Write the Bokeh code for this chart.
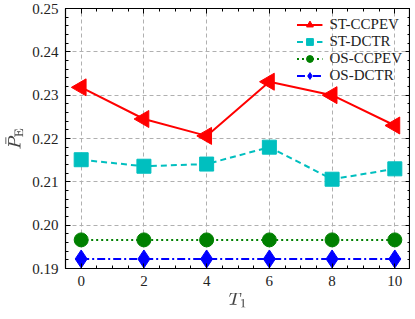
import numpy as np
from bokeh.plotting import figure
from bokeh.models import Range1d, LinearAxis, FixedTicker, Legend, LegendItem
from bokeh.embed import file_html
from bokeh.resources import INLINE

t1 = [0, 2, 4, 6, 8, 10]
st_ccpev = [0.2318, 0.2245, 0.2206, 0.2331, 0.2300, 0.2230]
st_dctr = [0.2151, 0.2136, 0.2141, 0.2180, 0.2106, 0.2130]
os_ccpev = [0.1966, 0.1966, 0.1966, 0.1966, 0.1966, 0.1966]
os_dctr = [0.1922, 0.1922, 0.1922, 0.1922, 0.1922, 0.1922]
xticks = [0, 2, 4, 6, 8, 10]
yticks = [0.19, 0.20, 0.21, 0.22, 0.23, 0.24, 0.25]
ytick_labels = {0.19: "0.19", 0.20: "0.20", 0.21: "0.21", 0.22: "0.22",
                0.23: "0.23", 0.24: "0.24", 0.25: "0.25"}

FONT = "Liberation Serif"

p = figure(frame_width=345, frame_height=260, output_backend="svg", toolbar_location=None,
           x_range=Range1d(-0.5, 10.5), y_range=Range1d(0.19, 0.25),
           min_border_left=0, min_border_right=0, min_border_top=8,
           min_border_bottom=0)
p.outline_line_color = "black"
p.outline_line_width = 1.2

def style_axis(ax):
    ax.major_tick_in = 5
    ax.major_tick_out = 0
    ax.minor_tick_in = 3
    ax.minor_tick_out = 0
    ax.axis_line_color = "black"
    ax.major_label_text_font = FONT
    ax.major_label_text_font_size = "15px"
    ax.major_label_text_color = "#222222"

xt = FixedTicker(ticks=xticks, minor_ticks=list(np.arange(-0.5, 10.51, 0.5)))
yt = FixedTicker(ticks=yticks, minor_ticks=list(np.round(np.arange(0.19, 0.2501, 0.002), 4)))

p.xaxis.ticker = xt
p.yaxis.ticker = yt
p.yaxis.major_label_overrides = ytick_labels
style_axis(p.xaxis[0])
style_axis(p.yaxis[0])
p.xaxis.axis_label = r"$$T_1$$"
p.yaxis.axis_label = r"$$\bar{P}_{\mathrm{E}}$$"
p.xaxis.axis_label_text_font_size = "15px"
p.yaxis.axis_label_text_font_size = "15px"
p.xaxis.major_label_standoff = 7
p.yaxis.major_label_standoff = 7
p.xaxis.axis_label_standoff = 4
p.yaxis.axis_label_standoff = 6

top = LinearAxis(ticker=xt, major_label_overrides={t: "" for t in xticks})
style_axis(top)
top.major_label_standoff = 0
right = LinearAxis(ticker=yt, major_label_overrides={t: "" for t in yticks})
style_axis(right)
right.major_label_standoff = 0
p.add_layout(top, "above")
p.add_layout(right, "right")

p.xgrid.ticker = xt
p.ygrid.ticker = yt
for g in (p.xgrid, p.ygrid):
    g.grid_line_color = "#b0b0b0"
    g.grid_line_dash = "4 3"
    g.grid_line_width = 1

l1 = p.line(t1, st_ccpev, color="#ff0000", line_width=2)
m1 = p.scatter(t1, st_ccpev, marker="triangle", size=17, angle=np.pi/2, color="#ff0000")
l2 = p.line(t1, st_dctr, color="#00bfbf", line_width=2, line_dash="6 4")
m2 = p.scatter(t1, st_dctr, marker="square", size=14, color="#00bfbf")
l3 = p.line(t1, os_ccpev, color="#008000", line_width=2, line_dash="2 3")
m3 = p.scatter(t1, os_ccpev, marker="circle", size=14, color="#008000")
l4 = p.line(t1, os_dctr, color="#0000ff", line_width=2, line_dash="8 3 2 3")
m4 = p.scatter(t1, os_dctr, marker="diamond", size=18, color="#0000ff")

legend = Legend(items=[
    LegendItem(label="ST-CCPEV", renderers=[l1, m1]),
    LegendItem(label="ST-DCTR", renderers=[l2, m2]),
    LegendItem(label="OS-CCPEV", renderers=[l3, m3]),
    LegendItem(label="OS-DCTR", renderers=[l4, m4]),
], location="top_right")
legend.background_fill_alpha = 0
legend.border_line_color = None
legend.label_text_font = FONT
legend.label_text_font_size = "15px"
legend.label_text_color = "#222222"
legend.glyph_width = 26
legend.glyph_height = 17
legend.label_height = 15
legend.spacing = 0
legend.padding = 0
legend.margin = 8
legend.label_standoff = 7
p.add_layout(legend)

open("out.html", "w").write(file_html(p, INLINE))
